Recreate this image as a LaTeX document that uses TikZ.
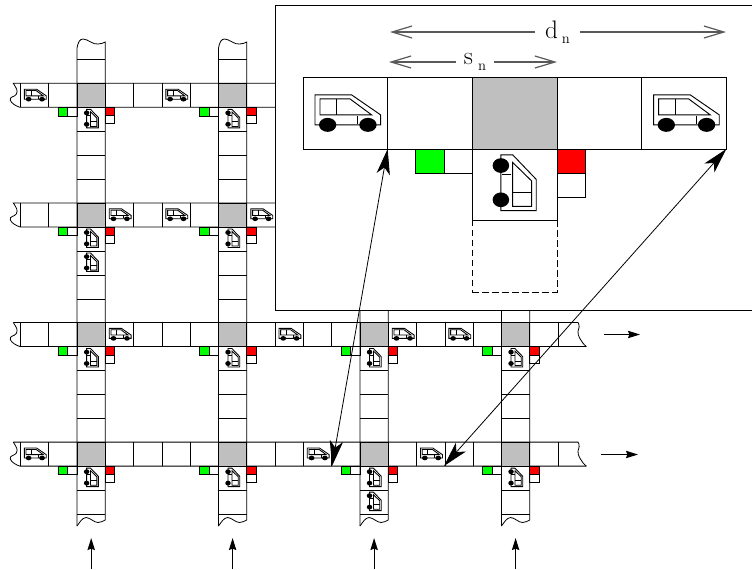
\documentclass[tikz,border=0pt]{standalone}
\usepackage{tikz}
\usetikzlibrary{arrows.meta,positioning}

\tikzset{van/.pic={
  \fill[black] (-53,35) ellipse [x radius=26, y radius=21];
  \fill[black] (68,35) ellipse [x radius=26, y radius=21];
  \draw (-91,35) -- (-91,-55) -- (19,-55) -- (106,5) -- (106,35) -- cycle;
  \draw (-76,5) -- (-76,-43) -- (14,-43) -- (79,5) -- cycle;
  \draw (-26,-43) -- (-26,5);
  \draw (36,8) -- (36,32);
}}

\begin{document}
\begin{tikzpicture}[x=0.75pt, y=-0.75pt, line width=0.6pt, every node/.style={inner sep=0pt, outer sep=0pt}]
\tikzset{hvan/.style={scale=0.111, line width=0.65pt}}
\tikzset{vvan/.style={xscale=0.131, yscale=0.094, rotate=90, yscale=-1, line width=0.65pt}}
\tikzset{hvanbig/.style={scale=0.333, line width=0.7pt}}
\tikzset{vvanbig/.style={xscale=0.393, yscale=0.283, rotate=90, yscale=-1, line width=0.7pt}}
\tikzset{bigcell/.style={draw, minimum width=63.5pt, minimum height=53.7pt}}
\tikzset{bigsig/.style={draw, minimum width=21.3pt, minimum height=18pt}}
\tikzset{dim/.style={-{Straight Barb[length=15pt, width=9pt]}, gray!70!black, line width=0.9pt}}
\tikzset{flow/.style={-{Stealth[length=9pt, width=5.5pt, inset=1pt]}, line width=0.8pt}}
\tikzset{pointer/.style={{Stealth[length=19pt, width=10pt, inset=5pt]}-{Stealth[length=19pt, width=10pt, inset=5pt]}, line width=0.6pt}}
\useasboundingbox (0,0) rectangle (752,569);

% vertical streets
\foreach \cx in {77,218.5,360,501.5} {
  \draw (\cx,526) -- (\cx,48) .. controls +(1,-6) and +(-3,0) .. ++(6,-9) .. controls +(5,0) and +(-5,1) .. ++(15,5) .. controls +(3,0) and +(-2.3,1) .. ++(7.3,-2) -- ++(0,478);
  \draw (\cx,526) .. controls +(3,-4) and +(-4,0.5) .. ++(9,-8.5) .. controls +(4,0) and +(-4,0) .. ++(12,5) .. controls +(3,0) and +(-2.3,1) .. ++(7.3,-2.5);
  \foreach \dy in {59.3,131.3,155.3,179.3,251,275,299,370.5,394.5,418.5,490,514}
    \draw (\cx,\dy) -- ++(28.3,0);
}

% horizontal streets
\foreach \ry in {83.3,202.9} {
  \draw (275,\ry) -- (13.3,\ry) .. controls +(3,5) and +(2,-4) .. ++(3,11) .. controls +(-2,3) and +(-1,-4) .. ++(-6,6) .. controls +(1,3) and +(-3.7,-1) .. ++(9.7,7) -- ++(255,0);
  \foreach \k in {0,...,9}
    \draw ({20.4+28.3*\k},\ry) -- ++(0,24);
}
\foreach \ry in {322.5,442.1} {
  \draw (13.3,\ry) .. controls +(3,5) and +(2,-4) .. ++(3,11) .. controls +(-2,3) and +(-1,-4) .. ++(-6,6) .. controls +(1,3) and +(-3.7,-1) .. ++(9.7,7) -- ++(566.4,0);
  \draw (13.3,\ry) -- (578,\ry) .. controls +(2,3) and +(1,-3) .. ++(0,9) .. controls +(-1,3) and +(-4.4,-3) .. ++(8.4,15);
  \foreach \k in {0,...,19}
    \draw ({20.4+28.3*\k},\ry) -- ++(0,24);
}

% crossings with their signals
\foreach \cx in {77,218.5,360,501.5} {
  \foreach \ry in {83.3,202.9,322.5,442.1} {
    \draw[fill=gray!50] (\cx,\ry) rectangle ++(28.3,24);
    \draw[fill=green] (\cx-18.7,\ry+24) rectangle ++(9.4,8.6);
    \draw (\cx-9.3,\ry+24) rectangle ++(9.3,8.6);
    \draw[fill=red] (\cx+28.3,\ry+24) rectangle ++(9.4,8.4);
    \draw (\cx+28.3,\ry+32.4) rectangle ++(9.4,8);
  }
}

% vans on the horizontal streets
\foreach \vx/\vy in {34.5/95.3,176/95.3,119.4/214.9,176/214.9,261/214.9,119.4/334.5,289.1/334.5,402.4/334.5,459/334.5,34.5/454.1,317.4/454.1,430.7/454.1}
  \pic[hvan] at (\vx,\vy) {van};
% vans on the vertical streets
\foreach \vx/\vy in {91.2/119.3,232.6/119.3,91.2/238.9,91.2/263,232.6/238.9,91.2/358.5,232.6/358.5,374.1/358.5,515.6/358.5,91.2/478.1,232.6/478.1,374.1/478.1,374.1/502.1,515.6/478.1}
  \pic[vvan] at (\vx,\vy) {van};

% enlarged view
\draw[fill=white] (275,5) rectangle (760,310);
\node[bigcell] (left) at (345.3,113.2) {};
\node[bigcell, right=0pt of left] (before) {};
\node[bigcell, right=0pt of before, fill=gray!50] (cross) {};
\node[bigcell, right=0pt of cross] (after) {};
\node[bigcell, right=0pt of after] (right) {};
\node[bigcell, below=0pt of cross] (stop) {};
\node[bigcell, below=0pt of stop, dash pattern=on 5pt off 2.5pt] (queue) {};
\node[bigsig, anchor=north east] (gooff) at (cross.south west) {};
\node[bigsig, left=0pt of gooff, fill=green] (go) {};
\node[bigsig, anchor=north west, fill=red] (halt) at (after.south west) {};
\node[bigsig, below=0pt of halt] (haltoff) {};
\pic[hvanbig] at (left) {van};
\pic[hvanbig] at (right) {van};
\pic[vvanbig] at (stop) {van};

% distances
\node[minimum width=33.7pt, minimum height=20pt] (dn) at (557.5,32) {\fontsize{19}{19}\selectfont d\hspace{3pt}\raisebox{-4pt}{\fontsize{11}{11}\selectfont n}};
\node[minimum width=28.5pt, minimum height=20pt] (sn) at (475,62) {\fontsize{19}{19}\selectfont s\hspace{4pt}\raisebox{-4pt}{\fontsize{11}{11}\selectfont n}};
\coordinate (dnleft) at (390,32);
\coordinate (dnright) at (726,32);
\coordinate (snleft) at (389,62);
\coordinate (snright) at (557,62);
\draw[dim] (dn) -- (dnleft);
\draw[dim] (dn) -- (dnright);
\draw[dim] (sn) -- (snleft);
\draw[dim] (sn) -- (snright);

% from the street to the enlarged view
\coordinate (mapnear) at (332,466);
\coordinate (mapfar) at (444,466);
\draw[pointer] (left.south east) -- (mapnear);
\draw[pointer] (right.south east) -- (mapfar);

% traffic directions
\coordinate (eastA) at (604,334.5);
\coordinate (eastAend) at (640,334.5);
\coordinate (eastB) at (601,454.5);
\coordinate (eastBend) at (638,454.5);
\draw[flow] (eastA) -- (eastAend);
\draw[flow] (eastB) -- (eastBend);
\foreach \ax/\an in {91.2/a,232.6/b,374.1/c,515.6/d} {
  \coordinate (north\an) at (\ax,569);
  \coordinate (tip\an) at (\ax,538);
  \draw[flow] (north\an) -- (tip\an);
}
\end{tikzpicture}
\end{document}
